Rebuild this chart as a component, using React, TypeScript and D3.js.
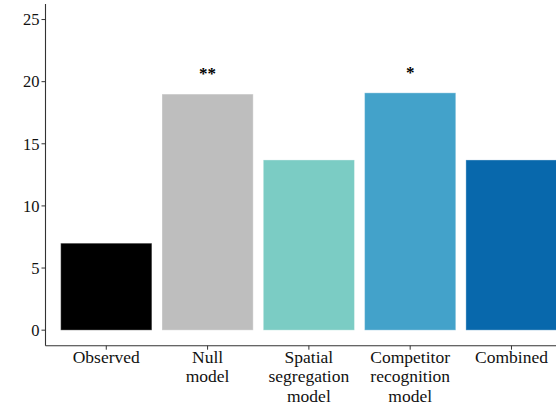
import React from "react";
import * as d3 from "d3";

const categories: string[][] = [
  ["Observed"],
  ["Null", "model"],
  ["Spatial", "segregation", "model"],
  ["Competitor", "recognition", "model"],
  ["Combined"],
];
const values: number[] = [7.0, 19.0, 13.7, 19.1, 13.7];
const barColors: string[] = ["#000000", "#BEBEBE", "#7BCCC4", "#43A2CA", "#0868AC"];
const significance: string[] = ["", "**", "", "*", ""];
const yTicks: number[] = [0, 5, 10, 15, 20, 25];

const W = 556;
const H = 406;
const left = 45.5;
const bottom = 345.7;
const top = 4;
const font = "Liberation Serif, Times New Roman, DejaVu Serif, serif";

export default function App() {
  const keys = categories.map((c) => c.join(" "));
  const x = d3
    .scaleBand<string>()
    .domain(keys)
    .range([left, left + 5.2 * 101.3])
    .paddingInner(0.1)
    .paddingOuter(0.15);
  const y = d3.scaleLinear().domain([-1.25, 26.25]).range([bottom, top]);
  const txt = { fontFamily: font };

  return (
    <svg
      width={W}
      height={H}
      style={{ position: "absolute", left: 0, top: 0, background: "#fff", fontFamily: font }}
    >
      {values.map((v, i) => (
        <rect
          key={keys[i]}
          x={x(keys[i])!}
          y={y(v)}
          width={x.bandwidth()}
          height={y(0) - y(v)}
          fill={barColors[i]}
          stroke="#ffffff"
          strokeOpacity={0.35}
          strokeWidth={1}
        />
      ))}
      {values.map((v, i) =>
        significance[i] ? (
          <text
            key={"sig" + i}
            x={x(keys[i])! + x.bandwidth() / 2}
            y={y(v) - 15}
            textAnchor="middle"
            fontSize={17}
            fontWeight="bold"
            fill="#000"
            style={txt}
          >
            {significance[i]}
          </text>
        ) : null
      )}
      {/* y axis */}
      <line x1={left} x2={left} y1={top} y2={bottom} stroke="#333" strokeWidth={1.1} />
      {yTicks.map((t) => (
        <g key={t}>
          <line x1={left - 4} x2={left} y1={y(t)} y2={y(t)} stroke="#333" strokeWidth={1} />
          <text
            x={left - 6}
            y={y(t)}
            dy="0.35em"
            textAnchor="end"
            fontSize={16.5}
            fill="#111"
            style={txt}
          >
            {t}
          </text>
        </g>
      ))}
      {/* x axis */}
      <line x1={left} x2={W} y1={bottom} y2={bottom} stroke="#333" strokeWidth={1.1} />
      {categories.map((lines, i) => {
        const cx = x(keys[i])! + x.bandwidth() / 2;
        return (
          <g key={"xl" + i}>
            <line x1={cx} x2={cx} y1={bottom} y2={bottom + 4} stroke="#333" strokeWidth={1} />
            {lines.map((ln, j) => (
              <text
                key={j}
                x={cx}
                y={bottom + 17 + j * 19.5}
                textAnchor="middle"
                fontSize={17.5}
                fill="#111"
                style={txt}
              >
                {ln}
              </text>
            ))}
          </g>
        );
      })}
    </svg>
  );
}
